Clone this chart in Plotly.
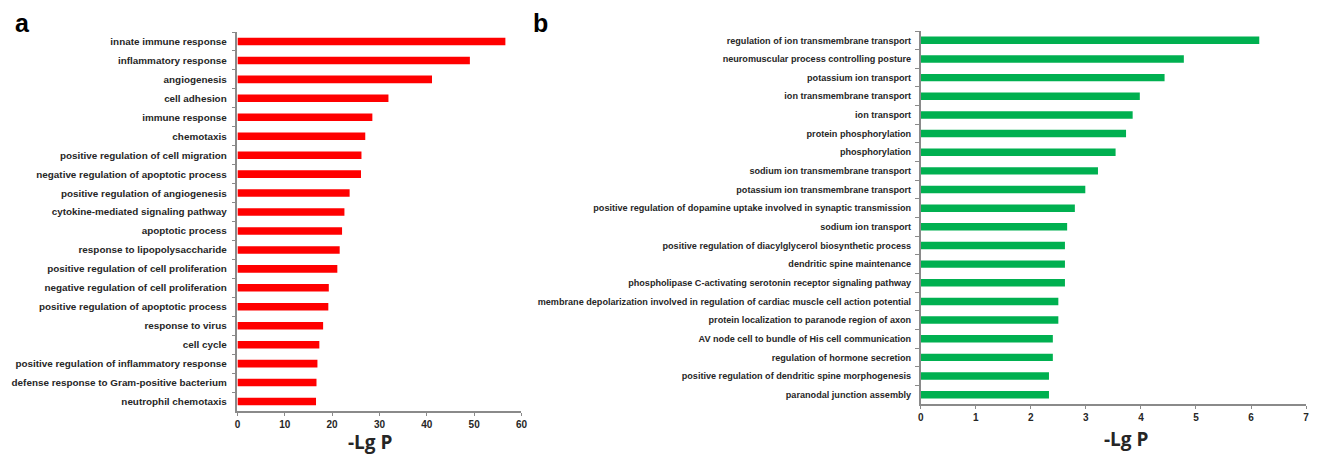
import plotly.graph_objects as go

terms_a = [
    "innate immune response", "inflammatory response", "angiogenesis", "cell adhesion",
    "immune response", "chemotaxis", "positive regulation of cell migration",
    "negative regulation of apoptotic process", "positive regulation of angiogenesis",
    "cytokine-mediated signaling pathway", "apoptotic process", "response to lipopolysaccharide",
    "positive regulation of cell proliferation", "negative regulation of cell proliferation",
    "positive regulation of apoptotic process", "response to virus", "cell cycle",
    "positive regulation of inflammatory response", "defense response to Gram-positive bacterium",
    "neutrophil chemotaxis",
]
values_a = [56.6, 49.1, 41.1, 31.9, 28.5, 27.0, 26.2, 26.1, 23.7, 22.6,
            22.1, 21.6, 21.1, 19.3, 19.2, 18.1, 17.3, 16.9, 16.7, 16.6]

terms_b = [
    "regulation of ion transmembrane transport", "neuromuscular process controlling posture",
    "potassium ion transport", "ion transmembrane transport", "ion transport",
    "protein phosphorylation", "phosphorylation", "sodium ion transmembrane transport",
    "potassium ion transmembrane transport",
    "positive regulation of dopamine uptake involved in synaptic transmission",
    "sodium ion transport", "positive regulation of diacylglycerol biosynthetic process",
    "dendritic spine maintenance", "phospholipase C-activating serotonin receptor signaling pathway",
    "membrane depolarization involved in regulation of cardiac muscle cell action potential",
    "protein localization to paranode region of axon", "AV node cell to bundle of His cell communication",
    "regulation of hormone secretion", "positive regulation of dendritic spine morphogenesis",
    "paranodal junction assembly",
]
values_b = [6.15, 4.78, 4.43, 3.98, 3.85, 3.73, 3.54, 3.22, 2.99, 2.80,
            2.66, 2.62, 2.62, 2.62, 2.50, 2.50, 2.40, 2.40, 2.33, 2.33]

x_ticks_a = [0, 10, 20, 30, 40, 50, 60]
x_ticks_b = [0, 1, 2, 3, 4, 5, 6, 7]

# page body has an 8px default margin; size the figure to fit inside the window
PAD = 8
W, H = 1328 - 2 * PAD, 464 - 2 * PAD


def px(x):
    return (x - PAD) / W


def py(y):
    return 1 - (y - PAD) / H


LABEL_FONT = "Liberation Sans, Arial"
AXIS_GRAY = "#8a8a8a"
TEXT = "#262626"

fig = go.Figure()
fig.add_trace(go.Bar(y=terms_a, x=values_a, orientation="h", marker=dict(color="#FF0000", line=dict(width=0)),
                     xaxis="x", yaxis="y", showlegend=False))
fig.add_trace(go.Bar(y=terms_b, x=values_b, orientation="h", marker=dict(color="#00B050", line=dict(width=0)),
                     xaxis="x2", yaxis="y2", showlegend=False))


def xax(rng, ticks, domain, anchor):
    return dict(domain=domain, anchor=anchor, range=rng, tickvals=ticks, showgrid=False, zeroline=False,
                showline=True, linecolor=AXIS_GRAY, linewidth=1.5, ticks="outside", ticklen=3,
                tickcolor=AXIS_GRAY, tickwidth=1,
                tickfont=dict(family=LABEL_FONT, size=10, color=TEXT, weight="bold"), fixedrange=True)


def yax(cats, domain, anchor, size, standoff):
    return dict(domain=domain, anchor=anchor, type="category", categoryorder="array", categoryarray=cats,
                autorange="reversed", showgrid=False, zeroline=False, showline=True, linecolor=AXIS_GRAY,
                linewidth=1.5, ticks="outside", ticklen=4, tickcolor=AXIS_GRAY, tickson="boundaries",
                ticklabelstandoff=standoff,
                tickfont=dict(family=LABEL_FONT, size=size, color=TEXT, weight="bold"), fixedrange=True)


TITLE_FONT = dict(family="Open Sans, Lato, Liberation Sans", size=19, color=TEXT, weight="bold")

fig.update_layout(
    width=W, height=H, margin=dict(l=0, r=0, t=0, b=0),
    plot_bgcolor="white", paper_bgcolor="white", bargap=0.6,
    xaxis=xax([0, 60], x_ticks_a, [px(236), px(522)], "y"),
    yaxis=yax(terms_a, [py(411), py(32)], "x", 9.9, 7),
    xaxis2=xax([0, 7], x_ticks_b, [px(924), px(1312)], "y2"),
    yaxis2=yax(terms_b, [py(404), py(31)], "x2", 9.1, 6),
    annotations=[
        dict(text="a", x=px(10), y=py(7), xref="paper", yref="paper", xanchor="left", yanchor="top",
             showarrow=False, font=dict(family="Liberation Sans, Arial", size=25, color="black", weight="bold")),
        dict(text="b", x=px(532), y=py(7), xref="paper", yref="paper", xanchor="left", yanchor="top",
             showarrow=False, font=dict(family="Liberation Sans, Arial", size=25, color="black", weight="bold")),
        dict(text="-Lg P", x=px(370), y=0, xref="paper", yref="paper", xanchor="center",
             yanchor="bottom", borderpad=0, showarrow=False, font=TITLE_FONT),
        dict(text="-Lg P", x=px(1131), y=py(439), xref="paper", yref="paper", xanchor="center",
             yanchor="middle", borderpad=0, showarrow=False, font=TITLE_FONT),
    ],
)

fig.write_html("out.html")
